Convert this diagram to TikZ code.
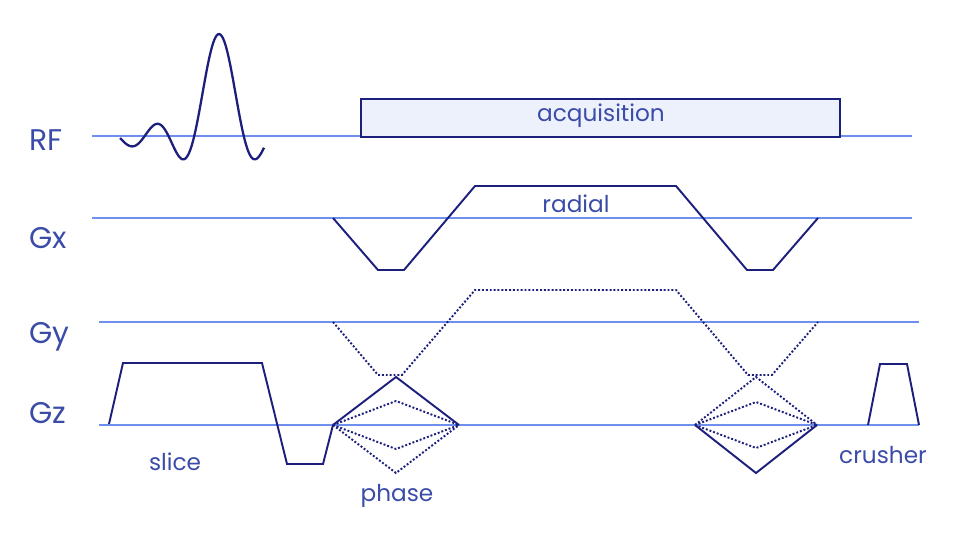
\documentclass[tikz,border=0pt]{standalone}
\usepackage{fontspec}
\setmainfont{Poppins}
\definecolor{colEje}{HTML}{6F8FEF}
\definecolor{colOnda}{HTML}{1C1F7C}
\definecolor{colTexto}{HTML}{3B4CA8}
\definecolor{colRelleno}{HTML}{EDF1FC}
\begin{document}
\begin{tikzpicture}[x=0.02cm, y=-0.02cm,
    eje/.style={colEje, line width=1.1pt},
    grad/.style={colOnda, line width=1.1pt, line join=miter},
    fase/.style={colOnda, line width=1.1pt, dash pattern=on 1.1pt off 1.1pt},
    etiqueta/.style={colTexto, inner sep=0pt, font=\fontsize{13.2}{16}\selectfont},
    canal/.style={etiqueta, anchor=base west, font=\fontsize{17}{20}\selectfont}]
    \useasboundingbox (0,0) rectangle (960,540);

    % Lineas base de cada canal
    \draw[eje] (92,136) -- (912,136);
    \draw[eje] (92,218) -- (912,218);
    \draw[eje] (99,322) -- (919,322);
    \draw[eje] (99,425) -- (919,425);

    % Nombres de los canales
    \node[canal] (rf) at (29,151) {RF};
    \node[canal] (gx) at (29,249) {Gx};
    \node[canal] (gy) at (29,344) {Gy};
    \node[canal] (gz) at (29,423) {Gz};

    % Pulso RF (sinc)
    \draw[grad, line width=1.3pt] plot[domain=-3.9601:1.8, samples=120, smooth]
        ({219+25*\x}, {137-103*sin(180*\x)/(3.14159*\x)});

    % Ventana de adquisicion
    \draw[grad, fill=colRelleno] (361,99) rectangle (840,137);
    \node[etiqueta, anchor=base] (adq) at (601,122) {acquisition};

    % Gradiente de lectura (Gx)
    \draw[grad] (333,218) -- (378,270) -- (404,270) -- (475,186)
        -- (676,186) -- (747,270) -- (773,270) -- (818,218);
    \node[etiqueta, anchor=base] (radial) at (576,213) {radial};

    % Gradiente Gy (punteado)
    \draw[fase] (333,322) -- (378,375) -- (402,375) -- (475,290)
        -- (676,290) -- (748,375) -- (772,375) -- (818,322);

    % Gz: seleccion de corte
    \draw[grad] (109,424) -- (123,363) -- (262,363) -- (287,464) -- (323,464) -- (333,425);
    \node[etiqueta, anchor=base] (slice) at (175,470) {slice};

    % Gz: codificacion de fase (izquierda)
    \coordinate (fi1) at (333,425);
    \coordinate (ff1) at (459,425);
    \draw[grad] (fi1) -- (396,377) -- (ff1);
    \draw[fase] (fi1) -- (396,401) -- (ff1);
    \draw[fase] (fi1) -- (396,449) -- (ff1);
    \draw[fase] (fi1) -- (396,473) -- (ff1);
    \node[etiqueta, anchor=base] (phase) at (397,501) {phase};

    % Gz: codificacion de fase (derecha)
    \coordinate (fi2) at (695,425);
    \coordinate (ff2) at (817,425);
    \draw[grad] (fi2) -- (756,473) -- (ff2);
    \draw[fase] (fi2) -- (756,377) -- (ff2);
    \draw[fase] (fi2) -- (756,402) -- (ff2);
    \draw[fase] (fi2) -- (756,448) -- (ff2);

    % Gz: crusher
    \draw[grad] (868,425) -- (880,364) -- (907,364) -- (919,425);
    \node[etiqueta, anchor=base] (crusher) at (883,463) {crusher};
\end{tikzpicture}
\end{document}
